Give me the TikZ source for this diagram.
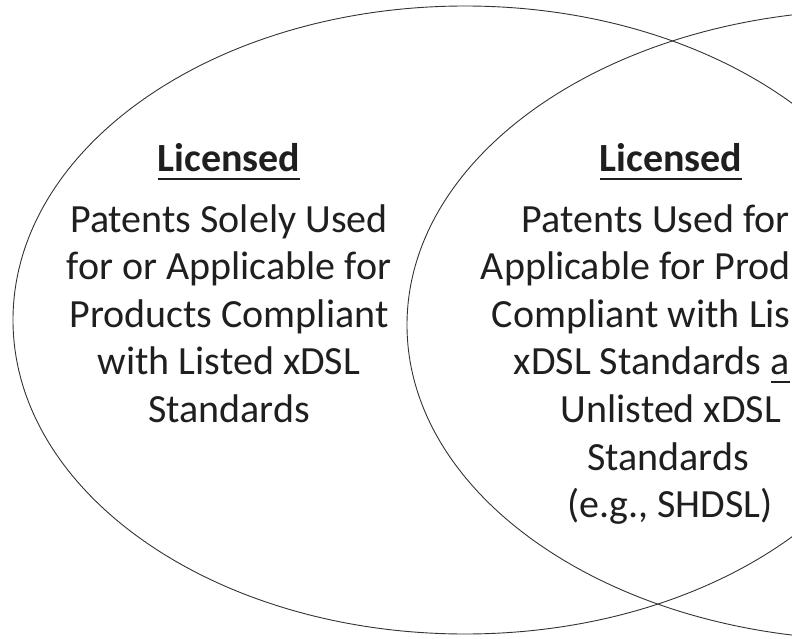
\documentclass[tikz,border=0pt]{standalone}
\usepackage{fontspec}
\setmainfont{Carlito}
\newcommand{\ulx}[1]{\setbox0\hbox{#1}\rlap{\rule[-8pt]{\wd0}{2pt}}\box0}
\begin{document}
\begin{tikzpicture}[x=1pt,y=-1pt,
  txt/.style={anchor=base, inner sep=0pt, font=\fontsize{40}{48}\selectfont, text=black!88},
  edge txt/.style={txt, anchor=base east},
  ring/.style={draw=black!80, line width=0.9pt}]
\useasboundingbox (0,0) rectangle (792,639);
\clip (0,0) rectangle (792,639);
\draw[ring] (465,320) ellipse [x radius=452, y radius=314];
\draw[ring] (875,325) ellipse [x radius=468, y radius=315];
% left set
\node[txt] (l0) at (229,172) {\bfseries\ulx{Licensed}};
\node[txt] (l1) at (229,232) {Patents Solely Used};
\node[txt] (l2) at (229,279.6) {for or Applicable for};
\node[txt] (l3) at (229,327.2) {Products Compliant};
\node[txt] (l4) at (229,374.8) {with Listed xDSL};
\node[txt] (l5) at (229,422.4) {Standards};
% right set (cut off by the right edge, as in the picture)
\node[txt] (r0) at (671,172) {\bfseries\ulx{Licensed}};
\node[edge txt] (r1) at (790,232) {Patents Used for};
\node[edge txt] (r2) at (791,279.6) {Applicable for Prod};
\node[edge txt] (r3) at (791,327.2) {Compliant with Lis};
\node[edge txt] (r4) at (790,374.8) {xDSL Standards \ulx{a}};
\node[txt] (r5) at (671,422.4) {Unlisted xDSL};
\node[txt] (r6) at (668,470) {Standards};
\node[txt] (r7) at (670,517.6) {(e.g., SHDSL)};
\end{tikzpicture}
\end{document}
